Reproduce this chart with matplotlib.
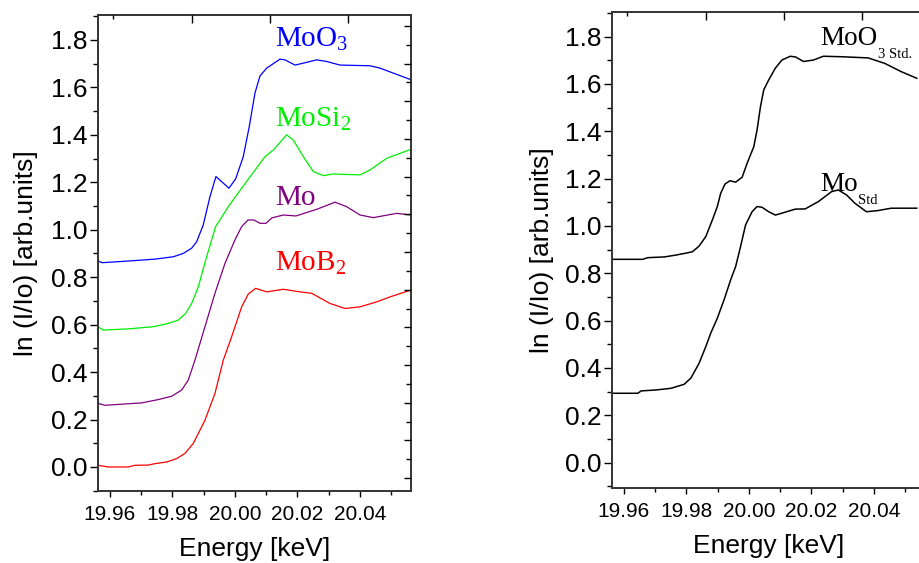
import numpy as np
import matplotlib
matplotlib.use('Agg')
import matplotlib.pyplot as plt
from matplotlib.ticker import MultipleLocator, FormatStrFormatter

plt.rcParams['font.family'] = ['Liberation Sans', 'DejaVu Sans']
plt.rcParams['mathtext.fontset'] = 'custom'
plt.rcParams['mathtext.rm'] = 'Liberation Serif'

# ---- datos panel izquierdo (muestras) ----
moo3_e = [19.95626, 19.95754, 19.96586, 19.9744, 19.98026, 19.98346, 19.98614, 19.98774,
          19.98986, 19.992, 19.99392, 19.99808, 20.00022, 20.00266, 20.00458, 20.0064,
          20.008, 20.01014, 20.0144, 20.016, 20.0192, 20.02186, 20.02614, 20.02934,
          20.0336, 20.0432, 20.0464, 20.05632]
moo3_mu = [0.868, 0.861, 0.868, 0.876, 0.886, 0.900, 0.922, 0.949,
           1.020, 1.139, 1.224, 1.175, 1.214, 1.308, 1.435, 1.576,
           1.648, 1.681, 1.719, 1.716, 1.694, 1.702, 1.716, 1.709,
           1.694, 1.691, 1.681, 1.632]

mosi2_e = [19.95626, 19.95786, 19.96586, 19.97386, 19.97866, 19.98186, 19.98422, 19.98614,
           19.98826, 19.99094, 19.99382, 19.99786, 20.00214, 20.00448, 20.0096, 20.01226,
           20.01654, 20.01866, 20.02186, 20.02506, 20.02826, 20.03146, 20.04, 20.0432,
           20.04854, 20.05632]
mosi2_mu = [0.591, 0.577, 0.582, 0.591, 0.605, 0.619, 0.647, 0.689,
            0.759, 0.886, 1.013, 1.097, 1.175, 1.217, 1.308, 1.336,
            1.400, 1.378, 1.308, 1.245, 1.228, 1.235, 1.231, 1.252,
            1.301, 1.339]

mo_e = [19.95626, 19.9584, 19.97014, 19.97546, 19.97974, 19.98294, 19.98506, 19.9872,
        19.9904, 19.9936, 19.9968, 20.0, 20.00214, 20.00416, 20.00608, 20.008,
        20.00992, 20.01184, 20.01546, 20.01952, 20.02614, 20.032, 20.03574, 20.04,
        20.04426, 20.05174, 20.05632]
mo_mu = [0.268, 0.260, 0.270, 0.284, 0.298, 0.324, 0.366, 0.450,
         0.591, 0.732, 0.858, 0.957, 1.013, 1.041, 1.041, 1.027,
         1.027, 1.050, 1.062, 1.058, 1.086, 1.116, 1.097, 1.062,
         1.051, 1.069, 1.062]

mob2_e = [19.95626, 19.95946, 19.96586, 19.968, 19.97226, 19.9744, 19.97814, 19.98134,
          19.984, 19.98666, 19.9904, 19.9936, 19.99626, 19.99894, 20.00214, 20.00426,
          20.00662, 20.01014, 20.01546, 20.0208, 20.02454, 20.0304, 20.0352, 20.04,
          20.04534, 20.0496, 20.05632]
mob2_mu = [0.007, 0.0, 0.0, 0.007, 0.008, 0.014, 0.021, 0.035,
           0.057, 0.099, 0.197, 0.310, 0.450, 0.549, 0.675, 0.729,
           0.753, 0.738, 0.749, 0.738, 0.732, 0.689, 0.668, 0.675,
           0.696, 0.717, 0.746]

# ---- datos panel derecho (estandares) ----
moo3std_e = [19.95631, 19.96604, 19.96763, 19.97294, 19.97666, 19.97983, 19.98193, 19.98406,
             19.98619, 19.98829, 19.98988, 19.99096, 19.99233, 19.99392, 19.99573, 19.99783,
             19.99942, 20.00155, 20.0026, 20.00368, 20.00473, 20.00632, 20.00845, 20.01054,
             20.01321, 20.0149, 20.01745, 20.02062, 20.0238, 20.02962, 20.03811, 20.04341,
             20.04869, 20.05367]
moo3std_mu = [0.859, 0.859, 0.866, 0.869, 0.877, 0.885, 0.891, 0.915,
              0.955, 1.025, 1.082, 1.138, 1.177, 1.191, 1.185, 1.206,
              1.265, 1.335, 1.406, 1.504, 1.575, 1.617, 1.667, 1.701,
              1.717, 1.714, 1.695, 1.701, 1.717, 1.715, 1.710, 1.687,
              1.652, 1.624]

mostd_e = [19.95631, 19.96445, 19.96553, 19.9703, 19.97507, 19.97929, 19.98142, 19.98406,
           19.98619, 19.98778, 19.98988, 19.99201, 19.99414, 19.99573, 19.99732, 19.99891,
           20.0010, 20.00259, 20.00418, 20.00631, 20.00845, 20.01054, 20.0148, 20.01798,
           20.02221, 20.02644, 20.02857, 20.03121, 20.03388, 20.03757, 20.04129, 20.0455,
           20.05367]
mostd_mu = [0.293, 0.293, 0.303, 0.307, 0.314, 0.331, 0.357, 0.420,
            0.490, 0.547, 0.610, 0.687, 0.772, 0.828, 0.913, 1.004,
            1.060, 1.082, 1.079, 1.060, 1.046, 1.054, 1.071, 1.072,
            1.103, 1.145, 1.152, 1.131, 1.096, 1.060, 1.065, 1.075,
            1.075]

xlim = (19.9562, 20.0563)


def formato(ax, ylim, lpad, ticks_der=True):
    ax.set_xlim(*xlim)
    ax.set_ylim(*ylim)
    ax.xaxis.set_major_locator(MultipleLocator(0.02))
    ax.xaxis.set_minor_locator(MultipleLocator(0.01))
    ax.xaxis.set_major_formatter(FormatStrFormatter('%.2f'))
    ax.yaxis.set_major_locator(MultipleLocator(0.2))
    ax.yaxis.set_minor_locator(MultipleLocator(0.1))
    ax.yaxis.set_major_formatter(FormatStrFormatter('%.1f'))
    ax.tick_params(axis='y', which='major', direction='out', length=5.5, width=1.0,
                   labelsize=19, pad=2)
    ax.tick_params(axis='y', which='minor', direction='out', length=3.5, width=1.0)
    ax.tick_params(axis='x', which='major', direction='out', length=4.5, width=1.0,
                   labelsize=15, pad=6)
    ax.tick_params(axis='x', which='minor', direction='out', length=3, width=1.0)
    for s in ax.spines.values():
        s.set_linewidth(1.4)
        s.set_color('#333333')
    ax.set_xlabel('Energy [keV]', fontsize=19, labelpad=9)
    ax.set_ylabel('ln (I/Io) [arb.units]', fontsize=19, labelpad=lpad)
    # ticks de arriba (eje independiente como en Origin)
    top = ax.twiny()
    top.set_xlim(0, 1)
    top.set_xticks([0.30, 0.55, 0.80])
    top.set_xticks([0.048], minor=True)
    top.tick_params(axis='x', which='both', direction='in', labeltop=False, width=1.0)
    top.tick_params(axis='x', which='major', length=6)
    top.tick_params(axis='x', which='minor', length=3)
    for s in top.spines.values():
        s.set_visible(False)
    if ticks_der:
        # ticks de la derecha
        der = ax.twinx()
        der.set_ylim(0, 1)
        pos = [0.977 - k * 0.0396 for k in range(25)]
        der.set_yticks(pos[::2])
        der.set_yticks(pos[1::2], minor=True)
        der.tick_params(axis='y', which='both', direction='in', labelright=False, width=1.0)
        der.tick_params(axis='y', which='major', length=5)
        der.tick_params(axis='y', which='minor', length=3.5)
        for s in der.spines.values():
            s.set_visible(False)


fig = plt.figure(figsize=(9.19, 5.63), dpi=100)

ax1 = fig.add_axes([98 / 919, 72.3 / 563, 313 / 919, 475.7 / 563])
ax1.plot(moo3_e, moo3_mu, color='#0000ff', lw=0.9)
ax1.plot(mosi2_e, mosi2_mu, color='#00ee00', lw=0.9)
ax1.plot(mo_e, mo_mu, color='#800080', lw=0.9)
ax1.plot(mob2_e, mob2_mu, color='#ff0000', lw=0.9)
formato(ax1, (-0.1, 1.905), 9)

lab = dict(fontsize=21, va='baseline', ha='left', family='Liberation Serif')
ax1.text(20.0128, 1.772, r'MoO$_\mathrm{3}$', color='#0000ff', **lab)
ax1.text(20.0128, 1.435, r'MoSi$_\mathrm{2}$', color='#00ee00', **lab)
ax1.text(20.0128, 1.104, 'Mo', color='#800080', **lab)
ax1.text(20.0128, 0.830, r'MoB$_\mathrm{2}$', color='#ff0000', **lab)

ax2 = fig.add_axes([612 / 919, 75.3 / 563, 313 / 919, 475.7 / 563])
ax2.plot(moo3std_e, moo3std_mu, color='black', lw=1.1)
ax2.plot(mostd_e, mostd_mu, color='black', lw=1.1)
formato(ax2, (-0.106, 1.904), 8, ticks_der=False)

t1 = ax2.text(20.0227, 1.765, 'MoO', fontsize=19.5, va='baseline', ha='left',
              family='Liberation Serif')
ax2.annotate('3 Std.', xy=(1, 0), xycoords=t1, xytext=(0.5, -5), textcoords='offset points',
             fontsize=10.5, va='baseline', ha='left', family='Liberation Serif')
t2 = ax2.text(20.0227, 1.148, 'Mo', fontsize=19.5, va='baseline', ha='left',
              family='Liberation Serif')
ax2.annotate('Std', xy=(1, 0), xycoords=t2, xytext=(0, -5), textcoords='offset points',
             fontsize=10.5, va='baseline', ha='left', family='Liberation Serif')

fig.savefig('out.png', dpi=100)
